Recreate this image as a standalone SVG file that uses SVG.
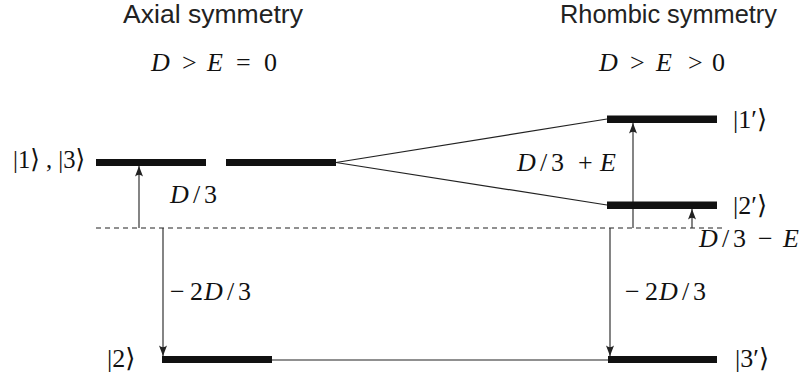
<svg xmlns="http://www.w3.org/2000/svg" width="805" height="381" viewBox="0 0 805 381">
<defs>
<style>
.t{font-family:"Liberation Sans",Arial,sans-serif;font-size:26px;fill:#222}
.m{font-family:"Liberation Serif","DejaVu Serif",serif;font-size:26px;fill:#111}
.i{font-style:italic}
.bar{fill:#111}
.ln{stroke:#222;stroke-width:1.2;fill:none}
.ar{stroke:#333;stroke-width:1.2;fill:none;marker-end:url(#ah)}
.dash{stroke:#222;stroke-width:1.1;stroke-dasharray:5 4;fill:none}
</style>
<marker id="ah" viewBox="-11 -5 12 10" refX="0" refY="0" markerWidth="12" markerHeight="10" markerUnits="userSpaceOnUse" orient="auto">
<path d="M0,0 L-10.5,-4 Q-7,0 -10.5,4 Z" fill="#222"/>
</marker>
</defs>
<rect width="805" height="381" fill="#fff"/>

<g id="headings">
<text class="t" x="123" y="23" textLength="180" lengthAdjust="spacingAndGlyphs">Axial symmetry</text>
<text class="t" x="560" y="23" textLength="217" lengthAdjust="spacingAndGlyphs">Rhombic symmetry</text>
<text class="m" y="71"><tspan class="i" x="151">D</tspan><tspan x="182">&gt;</tspan><tspan class="i" x="207">E</tspan><tspan x="236">=</tspan><tspan x="264">0</tspan></text>
<text class="m" y="71"><tspan class="i" x="599">D</tspan><tspan x="630">&gt;</tspan><tspan class="i" x="656">E</tspan><tspan x="688">&gt;</tspan><tspan x="712">0</tspan></text>
</g>

<g id="connectors">
<line class="dash" x1="96" y1="228" x2="722" y2="228"/>
<line class="ln" x1="336" y1="162.5" x2="607" y2="119"/>
<line class="ln" x1="336" y1="162.5" x2="607" y2="205"/>
<line class="ln" x1="272" y1="360" x2="608" y2="360"/>
<line class="ar" x1="139" y1="228" x2="139" y2="166"/>
<line class="ar" x1="163" y1="228" x2="163" y2="356"/>
<line class="ar" x1="633" y1="228" x2="633" y2="123"/>
<line class="ar" x1="692" y1="228" x2="692" y2="209"/>
<line class="ar" x1="610" y1="228" x2="610" y2="356"/>
</g>

<g id="level-1-3">
<rect class="bar" x="96" y="159" width="110" height="7"/>
<rect class="bar" x="226" y="159" width="110" height="7"/>
<text class="m" x="13" y="168" textLength="72" lengthAdjust="spacingAndGlyphs">|1⟩ , |3⟩</text>
</g>
<g id="level-2">
<rect class="bar" x="162" y="356" width="110" height="7"/>
<text class="m" x="107" y="367">|2⟩</text>
</g>
<g id="level-1p">
<rect class="bar" x="607" y="115.5" width="110" height="7.5"/>
<text class="m" x="733" y="128">|1′⟩</text>
</g>
<g id="level-2p">
<rect class="bar" x="607" y="201.5" width="110" height="7.5"/>
<text class="m" x="733" y="214">|2′⟩</text>
</g>
<g id="level-3p">
<rect class="bar" x="608" y="356" width="109" height="7"/>
<text class="m" x="735" y="367">|3′⟩</text>
</g>

<g id="labels">
<text class="m" y="203"><tspan class="i" x="170">D</tspan><tspan x="193">/</tspan><tspan x="204">3</tspan></text>
<text class="m" y="171"><tspan class="i" x="517">D</tspan><tspan x="540">/</tspan><tspan x="551">3</tspan><tspan x="578">+</tspan><tspan class="i" x="600">E</tspan></text>
<text class="m" y="247"><tspan class="i" x="699">D</tspan><tspan x="722">/</tspan><tspan x="733">3</tspan><tspan x="758">−</tspan><tspan class="i" x="783">E</tspan></text>
<text class="m" y="300"><tspan x="170">−</tspan><tspan x="190">2</tspan><tspan class="i" x="204">D</tspan><tspan x="227">/</tspan><tspan x="238">3</tspan></text>
<text class="m" y="300"><tspan x="625">−</tspan><tspan x="645">2</tspan><tspan class="i" x="659">D</tspan><tspan x="682">/</tspan><tspan x="693">3</tspan></text>
</g>
</svg>
